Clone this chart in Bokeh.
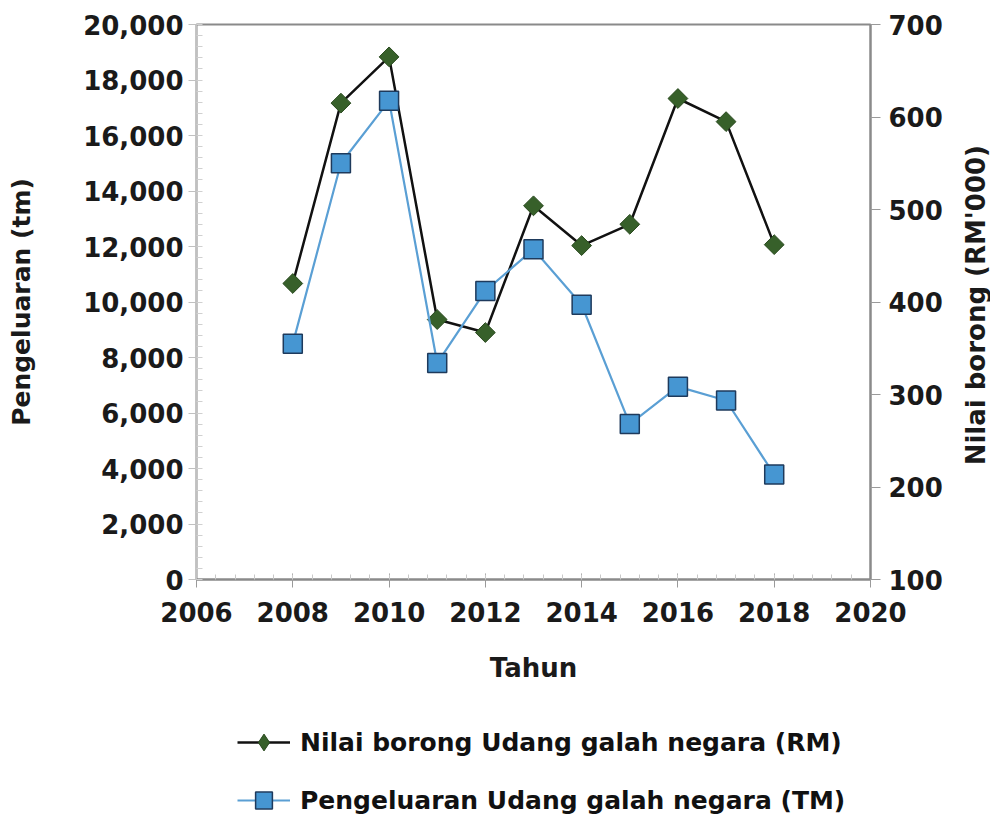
import math
from bokeh.plotting import figure
from bokeh.layouts import column, row
from bokeh.models import (Range1d, LinearAxis, FixedTicker, NumeralTickFormatter,
                          Legend, LegendItem, Label)
from bokeh.embed import file_html
from bokeh.resources import INLINE

years = [2008, 2009, 2010, 2011, 2012, 2013, 2014, 2015, 2016, 2017, 2018]
nilai_borong = [420, 615, 665, 381, 367, 504, 461, 484, 620, 595, 462]          # RM'000 (right axis)
pengeluaran = [8500, 15000, 17250, 7800, 10400, 11900, 9900, 5600, 6950, 6450, 3780]  # tm (left axis)

x_ticks = [2006, 2008, 2010, 2012, 2014, 2016, 2018, 2020]
left_ticks = [0, 2000, 4000, 6000, 8000, 10000, 12000, 14000, 16000, 18000, 20000]
right_ticks = [100, 200, 300, 400, 500, 600, 700]

label_nilai = "Nilai borong Udang galah negara (RM)"
label_peng = "Pengeluaran Udang galah negara (TM)"

FONT = "DejaVu Sans"
TXT = "#1a1a1a"

TOP, FH, BOT = 24, 555, 112
MAIN_H = TOP + FH + BOT

p = figure(frame_width=674, frame_height=FH,
           x_range=Range1d(2006, 2020), y_range=Range1d(0, 20000),
           output_backend="svg", toolbar_location=None,
           min_border_left=196, min_border_top=TOP, min_border_right=80,
           min_border_bottom=BOT)
p.extra_y_ranges = {"right": Range1d(100, 700)}
p.xgrid.visible = False
p.ygrid.visible = False
p.outline_line_color = "#8a8a8a"
p.outline_line_width = 2

# x axis
xa = p.xaxis[0]
xa.ticker = FixedTicker(ticks=x_ticks, minor_ticks=[2006 + 0.4 * i for i in range(36)])
xa.axis_label = "Tahun"
xa.axis_line_color = "#8a8a8a"
xa.axis_line_width = 2
xa.major_tick_line_color = "#9a9a9a"
xa.major_tick_in = 6
xa.major_tick_out = 8
xa.minor_tick_line_color = "#c8c8c8"
xa.minor_tick_in = 5
xa.minor_tick_out = 0
xa.major_label_text_font = FONT
xa.major_label_text_font_style = "bold"
xa.major_label_text_font_size = "26px"
xa.major_label_text_color = TXT
xa.major_label_standoff = 14
xa.axis_label_text_font = FONT
xa.axis_label_text_font_style = "bold"
xa.axis_label_text_font_size = "26px"
xa.axis_label_text_color = TXT
xa.axis_label_standoff = 28

# left axis
ya = p.yaxis[0]
ya.ticker = FixedTicker(ticks=left_ticks, minor_ticks=[400 * i for i in range(51)])
ya.formatter = NumeralTickFormatter(format="0,0")
ya.axis_label = "Pengeluaran (tm)"
ya.axis_line_color = "#c0c0c0"
ya.axis_line_width = 1
ya.major_tick_line_color = "#c0c0c0"
ya.major_tick_in = 0
ya.major_tick_out = 8
ya.minor_tick_line_color = "#d0d0d0"
ya.minor_tick_in = 6
ya.minor_tick_out = 0
ya.major_label_text_font = FONT
ya.major_label_text_font_style = "bold"
ya.major_label_text_font_size = "26px"
ya.major_label_text_color = TXT
ya.major_label_standoff = 5
ya.axis_label_text_font = FONT
ya.axis_label_text_font_style = "bold"
ya.axis_label_text_font_size = "25px"
ya.axis_label_text_color = TXT
ya.axis_label_standoff = 44

# right axis (ticks only; its title is drawn in the narrow figure to the right)
ra = LinearAxis(y_range_name="right", ticker=FixedTicker(ticks=right_ticks, minor_ticks=[]))
ra.axis_line_color = "#8a8a8a"
ra.axis_line_width = 2
ra.major_tick_line_color = "#9a9a9a"
ra.major_tick_in = 0
ra.major_tick_out = 10
ra.major_label_text_font = FONT
ra.major_label_text_font_style = "bold"
ra.major_label_text_font_size = "26px"
ra.major_label_text_color = TXT
ra.major_label_standoff = 8
p.add_layout(ra, "right")

# series
p.line(years, nilai_borong, y_range_name="right", line_color="#111111", line_width=2.5)
p.scatter(years, nilai_borong, y_range_name="right", marker="square", size=14,
          angle=math.pi / 4, fill_color="#37602a", line_color="#2a4a1f", line_width=1)
p.line(years, pengeluaran, line_color="#5a9fd4", line_width=2.2)
p.scatter(years, pengeluaran, marker="square", size=19,
          fill_color="#4696d2", line_color="#1e3a5c", line_width=1.5)

# right axis title (reads bottom-to-top)
p3 = figure(width=40, height=MAIN_H, x_range=Range1d(0, 40), y_range=Range1d(0, MAIN_H),
            output_backend="svg", toolbar_location=None, x_axis_type=None, y_axis_type=None,
            min_border=0)
p3.outline_line_color = None
p3.xgrid.visible = False
p3.ygrid.visible = False
p3.add_layout(Label(x=25, y=MAIN_H - (TOP + FH / 2) - 48, angle=math.pi / 2,
                    text="Nilai borong (RM'000)", text_align="center", text_baseline="middle",
                    text_font=FONT, text_font_style="bold", text_font_size="26px",
                    text_color=TXT))

# legend panel below the chart
LEG_H = 130
p2 = figure(width=990, height=LEG_H, x_range=Range1d(0, 1), y_range=Range1d(0, 1),
            output_backend="svg", toolbar_location=None, x_axis_type=None, y_axis_type=None,
            min_border=0)
p2.outline_line_color = None
p2.xgrid.visible = False
p2.ygrid.visible = False
# series renderers for the legend samples (data lies outside this panel's ranges)
k1 = p2.line(years, nilai_borong, line_color="#111111", line_width=2.5)
k1m = p2.scatter(years, nilai_borong, marker="diamond",
                 fill_color="#37602a", line_color="#2a4a1f", line_width=1)
k2 = p2.line(years, pengeluaran, line_color="#5a9fd4", line_width=2.2)
k2m = p2.scatter(years, pengeluaran, marker="square",
                 fill_color="#4696d2", line_color="#1e3a5c", line_width=1.5)

legend = Legend(items=[
    LegendItem(label=label_nilai, renderers=[k1, k1m]),
    LegendItem(label=label_peng, renderers=[k2, k2m]),
], location=(237, 0), orientation="vertical")
legend.border_line_color = None
legend.background_fill_alpha = 0
legend.padding = 0
legend.margin = 0
legend.spacing = 16
legend.glyph_width = 53
legend.glyph_height = 42
legend.label_height = 42
legend.label_standoff = 10
legend.label_text_font = FONT
legend.label_text_font_style = "bold"
legend.label_text_font_size = "25px"
legend.label_text_color = "#111111"
p2.add_layout(legend, "center")

layout = column(row(p, p3, spacing=0), p2, spacing=0)

open("out.html", "w").write(file_html(layout, INLINE))
